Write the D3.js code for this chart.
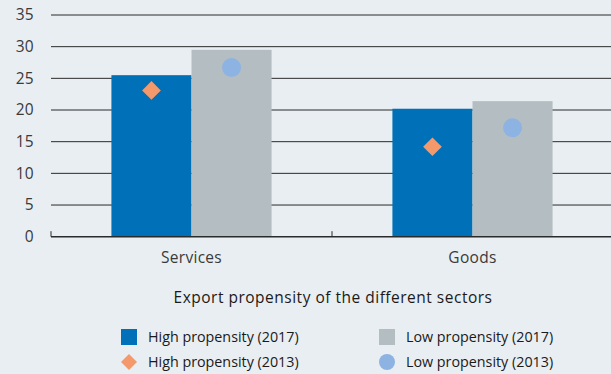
<!DOCTYPE html>
<html><head><meta charset="utf-8">
<script src="https://cdn.jsdelivr.net/npm/d3@7"></script>
<style>
html,body{margin:0;padding:0;background:#e9eef2;}
svg{display:block;font-family:"Open Sans",sans-serif;}
</style></head><body>
<svg id="c" width="611" height="374"></svg>
<script>
const categories = ["Services", "Goods"];
const high2017 = [25.5, 20.2];
const low2017 = [29.5, 21.4];
const high2013 = [23.1, 14.2];
const low2013 = [26.7, 17.2];
const yTicks = [0, 5, 10, 15, 20, 25, 30, 35];
const xTitle = "Export propensity of the different sectors";
const legendLabels = ["High propensity (2017)", "Low propensity (2017)", "High propensity (2013)", "Low propensity (2013)"];

(function(){
const colors = {high17:"#0070b8", low17:"#b4bec2", high13:"#f4996c", low13:"#8db3e2"};
const svg = d3.select("#c");
const pl = 51, pr = 613, pt = 15, pb = 236.7;

const y = d3.scaleLinear().domain([0, 35]).range([pb, pt]);
const x = d3.scaleBand().domain(categories).range([pl, pr]).paddingInner(0.43).paddingOuter(0.215);
const sub = d3.scaleBand().domain(["h","l"]).range([0, x.bandwidth()]);

svg.append("g").selectAll("line").data(yTicks.filter(d=>d>0)).join("line")
  .attr("x1", pl).attr("x2", 611).attr("y1", d=>y(d)).attr("y2", d=>y(d))
  .attr("stroke", "#2a2a2a").attr("stroke-width", 1);

svg.append("g").selectAll("text").data(yTicks).join("text")
  .attr("x", 34).attr("y", d=>y(d)).attr("dy", "0.35em").attr("text-anchor","end")
  .attr("font-size", 15.5).attr("letter-spacing", 0.3).attr("fill", "#3a3a3a").text(d=>d);

const g = svg.append("g");
g.selectAll("rect.bh").data(categories).join("rect").attr("class","bh")
  .attr("x", d=>x(d)+sub("h")).attr("width", sub.bandwidth())
  .attr("y", (d,i)=>y(high2017[i])).attr("height", (d,i)=>y(0)-y(high2017[i]))
  .attr("fill", colors.high17);
g.selectAll("rect.bl").data(categories).join("rect").attr("class","bl")
  .attr("x", d=>x(d)+sub("l")).attr("width", sub.bandwidth())
  .attr("y", (d,i)=>y(low2017[i])).attr("height", (d,i)=>y(0)-y(low2017[i]))
  .attr("fill", colors.low17);

svg.append("line").attr("x1", pl).attr("x2", 611).attr("y1", y(0)).attr("y2", y(0))
  .attr("stroke", "#2a2a2a").attr("stroke-width", 1.4);
const tickXs = [pl, (x(categories[0])+x.bandwidth()+x(categories[1]))/2];
svg.selectAll("line.tk").data(tickXs).join("line").attr("class","tk")
  .attr("x1", d=>d).attr("x2", d=>d).attr("y1", y(0)-5.5).attr("y2", y(0))
  .attr("stroke", "#2a2a2a").attr("stroke-width", 1);

const diamond = d3.symbol().type(d3.symbolSquare).size(175);
svg.selectAll("path.dm").data(categories).join("path").attr("class","dm")
  .attr("d", diamond)
  .attr("transform", (d,i)=>`translate(${x(d)+sub("h")+sub.bandwidth()/2},${y(high2013[i])}) rotate(45)`)
  .attr("fill", colors.high13);
svg.selectAll("circle.ci").data(categories).join("circle").attr("class","ci")
  .attr("cx", d=>x(d)+sub("l")+sub.bandwidth()/2).attr("cy", (d,i)=>y(low2013[i])).attr("r", 9.5)
  .attr("fill", colors.low13);

svg.selectAll("text.cl").data(categories).join("text").attr("class","cl")
  .attr("x", d=>x(d)+x.bandwidth()/2).attr("y", 263).attr("text-anchor","middle")
  .attr("font-size", 15.5).attr("letter-spacing", 0.3).attr("fill", "#3a3a3a").text(d=>d);

svg.append("text").attr("x", 333).attr("y", 303).attr("text-anchor","middle")
  .attr("font-size", 15.5).attr("letter-spacing", 0.5).attr("fill", "#1a1a1a").text(xTitle);

const legPos = [[121,337],[379,337],[121,362],[379,362]];
const legColors = [colors.high17, colors.low17, colors.high13, colors.low13];
legendLabels.forEach((lab,i)=>{
  const [lx,ly] = legPos[i];
  if (i<2) svg.append("rect").attr("x", lx).attr("y", ly-8).attr("width", 16).attr("height", 16).attr("fill", legColors[i]);
  else if (i===2) svg.append("path").attr("d", d3.symbol().type(d3.symbolSquare).size(128)).attr("transform", `translate(${lx+8},${ly}) rotate(45)`).attr("fill", legColors[i]);
  else svg.append("circle").attr("cx", lx+8).attr("cy", ly).attr("r", 8).attr("fill", legColors[i]);
  svg.append("text").attr("x", lx+27).attr("y", ly).attr("dy","0.35em").attr("font-size", 14.3).attr("fill","#1a1a1a").text(lab);
});
})();
</script>
</body></html>
